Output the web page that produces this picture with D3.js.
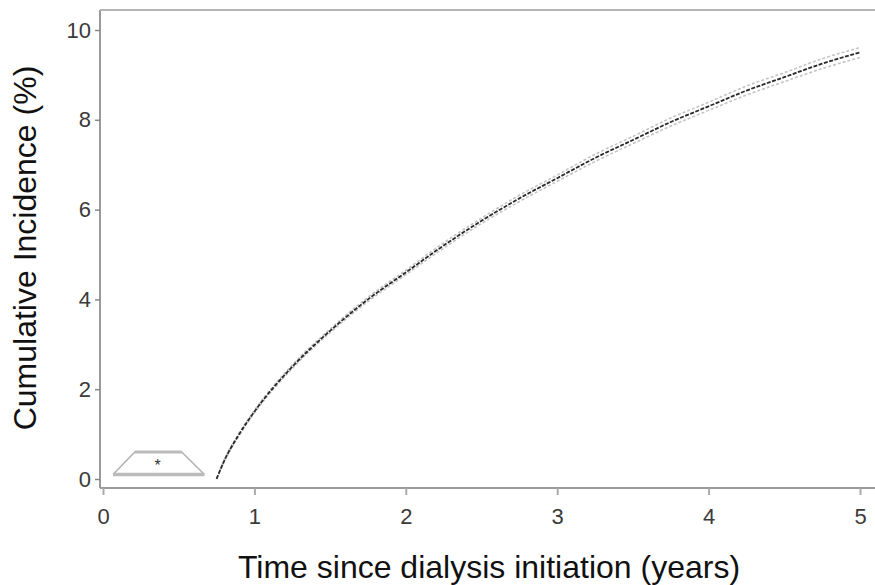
<!DOCTYPE html>
<html>
<head>
<meta charset="utf-8">
<script src="https://cdn.jsdelivr.net/npm/d3@7"></script>
<style>
  html, body { margin: 0; padding: 0; background: #fff; }
  text { font-family: "Liberation Sans", Arial, sans-serif; }
</style>
</head>
<body>
<svg id="chart" width="875" height="585"></svg>
<script>
// years since dialysis initiation
const years = [0.75, 0.8, 0.9, 1.0, 1.25, 1.5, 1.75, 2.0, 2.25, 2.5, 2.75, 3.0, 3.25, 3.5, 3.75, 4.0, 4.25, 4.5, 4.75, 5.0];
// cumulative incidence (%)
const incidence = [0, 0.4, 1.0, 1.5, 2.5, 3.3, 4.0, 4.6, 5.2, 5.75, 6.25, 6.7, 7.15, 7.55, 7.95, 8.3, 8.65, 8.95, 9.25, 9.5];
// confidence band half width (%)
const halfBand = [0, 0.02, 0.03, 0.03, 0.04, 0.04, 0.05, 0.05, 0.06, 0.06, 0.07, 0.07, 0.08, 0.08, 0.09, 0.09, 0.1, 0.1, 0.11, 0.11];
const xTicks = [0, 1, 2, 3, 4, 5];
const yTicks = [0, 2, 4, 6, 8, 10];
// small annotation shape near the origin (data units)
const shapePts = [[0.066, 0.1], [0.21, 0.6], [0.52, 0.6], [0.67, 0.1]];
const shapeMark = [0.36, 0.35];

const svg = d3.select("#chart");
const W = +svg.attr("width");

const axisLeftX = 100, axisBottomY = 488, topY = 10;

const x = d3.scaleLinear().domain([0, 5]).range([103, 860]);
const y = d3.scaleLinear().domain([0, 10]).range([479, 30]);

const data = years.map((t, i) => ({ t, v: incidence[i], h: halfBand[i] }));

// frame: left, top, bottom
svg.append("line")
  .attr("x1", axisLeftX).attr("x2", axisLeftX)
  .attr("y1", topY).attr("y2", axisBottomY)
  .attr("stroke", "#9a9a9a").attr("stroke-width", 2);
svg.append("line")
  .attr("x1", axisLeftX).attr("x2", W)
  .attr("y1", topY).attr("y2", topY)
  .attr("stroke", "#b4b4b4").attr("stroke-width", 2);
svg.append("line")
  .attr("x1", axisLeftX).attr("x2", W)
  .attr("y1", axisBottomY).attr("y2", axisBottomY)
  .attr("stroke", "#9a9a9a").attr("stroke-width", 2);

// x axis
const gx = svg.append("g")
  .attr("transform", `translate(0,${axisBottomY})`)
  .call(d3.axisBottom(x).tickValues(xTicks).tickSize(7).tickPadding(13).tickFormat(d3.format("d")));
gx.select(".domain").remove();
gx.selectAll(".tick line").attr("stroke", "#aaa").attr("stroke-width", 2);
gx.selectAll(".tick text").attr("fill", "#3a3a3a").style("font-size", "22px");

// y axis
const gy = svg.append("g")
  .attr("transform", `translate(${axisLeftX},0)`)
  .call(d3.axisLeft(y).tickValues(yTicks).tickSize(5).tickPadding(4).tickFormat(d3.format("d")));
gy.select(".domain").remove();
gy.selectAll(".tick line").attr("stroke", "#888").attr("stroke-width", 1.5);
gy.selectAll(".tick text").attr("fill", "#3a3a3a").style("font-size", "22px");

// axis titles
svg.append("text")
  .attr("x", 489)
  .attr("y", 578)
  .attr("text-anchor", "middle")
  .attr("fill", "#111")
  .style("font-size", "32px")
  .text("Time since dialysis initiation (years)");

svg.append("text")
  .attr("transform", `translate(36,248) rotate(-90)`)
  .attr("text-anchor", "middle")
  .attr("fill", "#111")
  .style("font-size", "32px")
  .text("Cumulative Incidence (%)");

// confidence band
const lineUp = d3.line().x(d => x(d.t)).y(d => y(d.v + d.h)).curve(d3.curveMonotoneX);
const lineLo = d3.line().x(d => x(d.t)).y(d => y(d.v - d.h)).curve(d3.curveMonotoneX);
[lineUp, lineLo].forEach(l => {
  svg.append("path")
    .attr("d", l(data))
    .attr("fill", "none")
    .attr("stroke", "#c4c4c4")
    .attr("stroke-width", 1.6)
    .attr("stroke-dasharray", "3,2");
});

// estimate
svg.append("path")
  .attr("d", d3.line().x(d => x(d.t)).y(d => y(d.v)).curve(d3.curveMonotoneX)(data))
  .attr("fill", "none")
  .attr("stroke", "#2a2a2a")
  .attr("stroke-width", 1.8)
  .attr("stroke-dasharray", "4,1.5");

// annotation shape
const shapeLine = d3.line().x(d => x(d[0])).y(d => y(d[1]));
svg.append("path")
  .attr("d", shapeLine(shapePts))
  .attr("fill", "none")
  .attr("stroke", "#b0b0b0")
  .attr("stroke-width", 1.5);
svg.append("line")
  .attr("x1", x(shapePts[1][0])).attr("x2", x(shapePts[2][0]))
  .attr("y1", y(shapePts[1][1])).attr("y2", y(shapePts[2][1]))
  .attr("stroke", "#bbb").attr("stroke-width", 3);
svg.append("line")
  .attr("x1", x(shapePts[0][0])).attr("x2", x(shapePts[3][0]))
  .attr("y1", y(shapePts[0][1])).attr("y2", y(shapePts[3][1]))
  .attr("stroke", "#bbb").attr("stroke-width", 3.5);
svg.append("text")
  .attr("x", x(shapeMark[0]))
  .attr("y", y(shapeMark[1]) + 8)
  .attr("text-anchor", "middle")
  .attr("fill", "#333")
  .style("font-size", "16px")
  .text("*");
</script>
</body>
</html>
